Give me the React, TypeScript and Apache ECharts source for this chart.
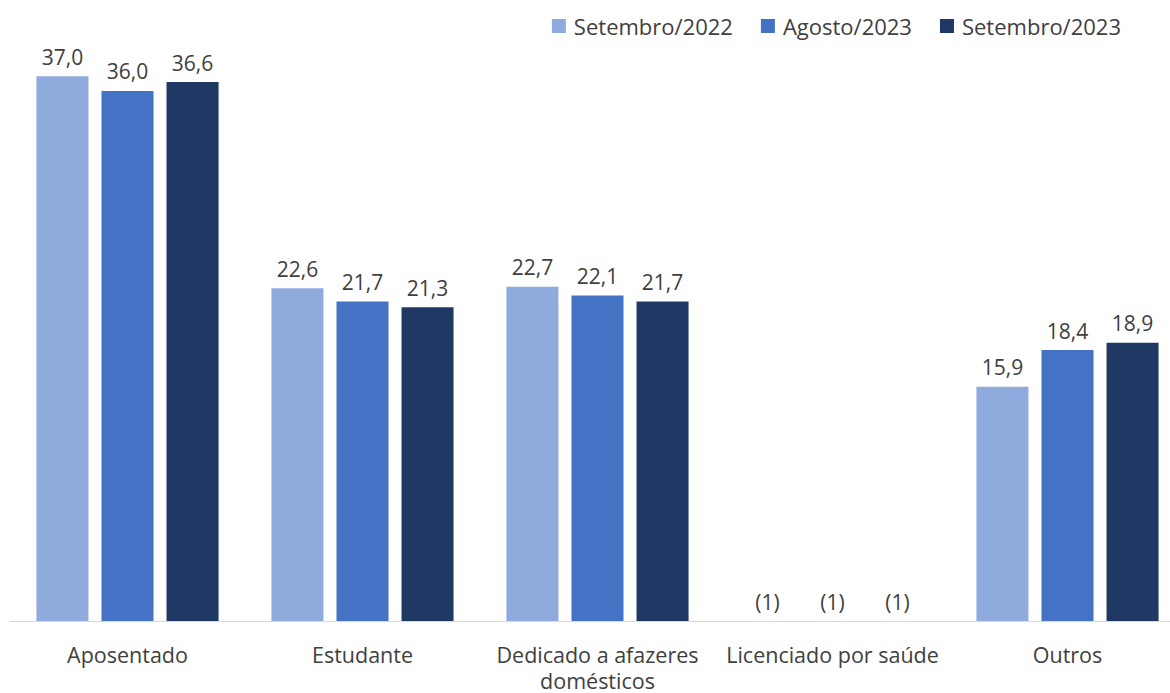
import React, { useEffect, useRef } from "react";
import * as echarts from "echarts";

const categories = [
  "Aposentado",
  "Estudante",
  "Dedicado a afazeres\ndomésticos",
  "Licenciado por saúde",
  "Outros",
];
const seriesNames = ["Setembro/2022", "Agosto/2023", "Setembro/2023"];
const set2022 = [37.0, 22.6, 22.7, 0, 15.9];
const ago2023 = [36.0, 21.7, 22.1, 0, 18.4];
const set2023 = [36.6, 21.3, 21.7, 0, 18.9];
// categories whose values are not shown (footnote marker)
const footnoteCategories = [false, false, false, true, false];
const footnoteLabel = "(1)";
const colors = ["#8faadc", "#4472c4", "#203864"];

const FONT = "'Open Sans', sans-serif";

export default function App() {
  const ref = useRef<HTMLDivElement>(null);
  useEffect(() => {
    if (!ref.current) return;
    const chart = echarts.init(ref.current, undefined, { renderer: "svg" });
    const allData = [set2022, ago2023, set2023];
    chart.setOption({
      animation: false,
      textStyle: { fontFamily: FONT },
      legend: {
        top: 10,
        right: 44,
        itemWidth: 14,
        itemHeight: 14,
        itemGap: 28,
        icon: "rect",
        textStyle: {
          fontSize: 22,
          color: "#404040",
          fontFamily: FONT,
          padding: [0, 0, 0, 3],
        },
        data: seriesNames,
      },
      grid: {
        left: 10,
        right: -15,
        top: 32,
        height: 589,
        containLabel: false,
        outerBoundsMode: "none",
      },
      xAxis: {
        type: "category",
        data: categories,
        axisLine: { lineStyle: { color: "#d9d9d9", width: 1 } },
        axisTick: { show: false },
        axisLabel: {
          fontSize: 21.5,
          color: "#404040",
          margin: 20,
          lineHeight: 26,
          interval: 0,
          fontFamily: FONT,
        },
      },
      yAxis: {
        type: "value",
        min: 0,
        max: 40,
        show: false,
        splitLine: { show: false },
      },
      series: seriesNames.map((name, si) => ({
        name,
        type: "bar",
        barGap: "25%",
        barCategoryGap: "22.5%",
        itemStyle: { color: colors[si] },
        data: allData[si].map((v) => v),
        label: {
          show: true,
          position: "top",
          distance: 9,
          fontSize: 21,
          color: "#404040",
          fontFamily: FONT,
          formatter: (p: any) =>
            footnoteCategories[p.dataIndex]
              ? footnoteLabel
              : Number(p.value).toFixed(1).replace(".", ","),
        },
      })),
    });
    return () => chart.dispose();
  }, []);
  return (
    <div
      ref={ref}
      style={{ position: "fixed", left: 0, top: 0, width: 1170, height: 693, background: "#fff" }}
    />
  );
}
